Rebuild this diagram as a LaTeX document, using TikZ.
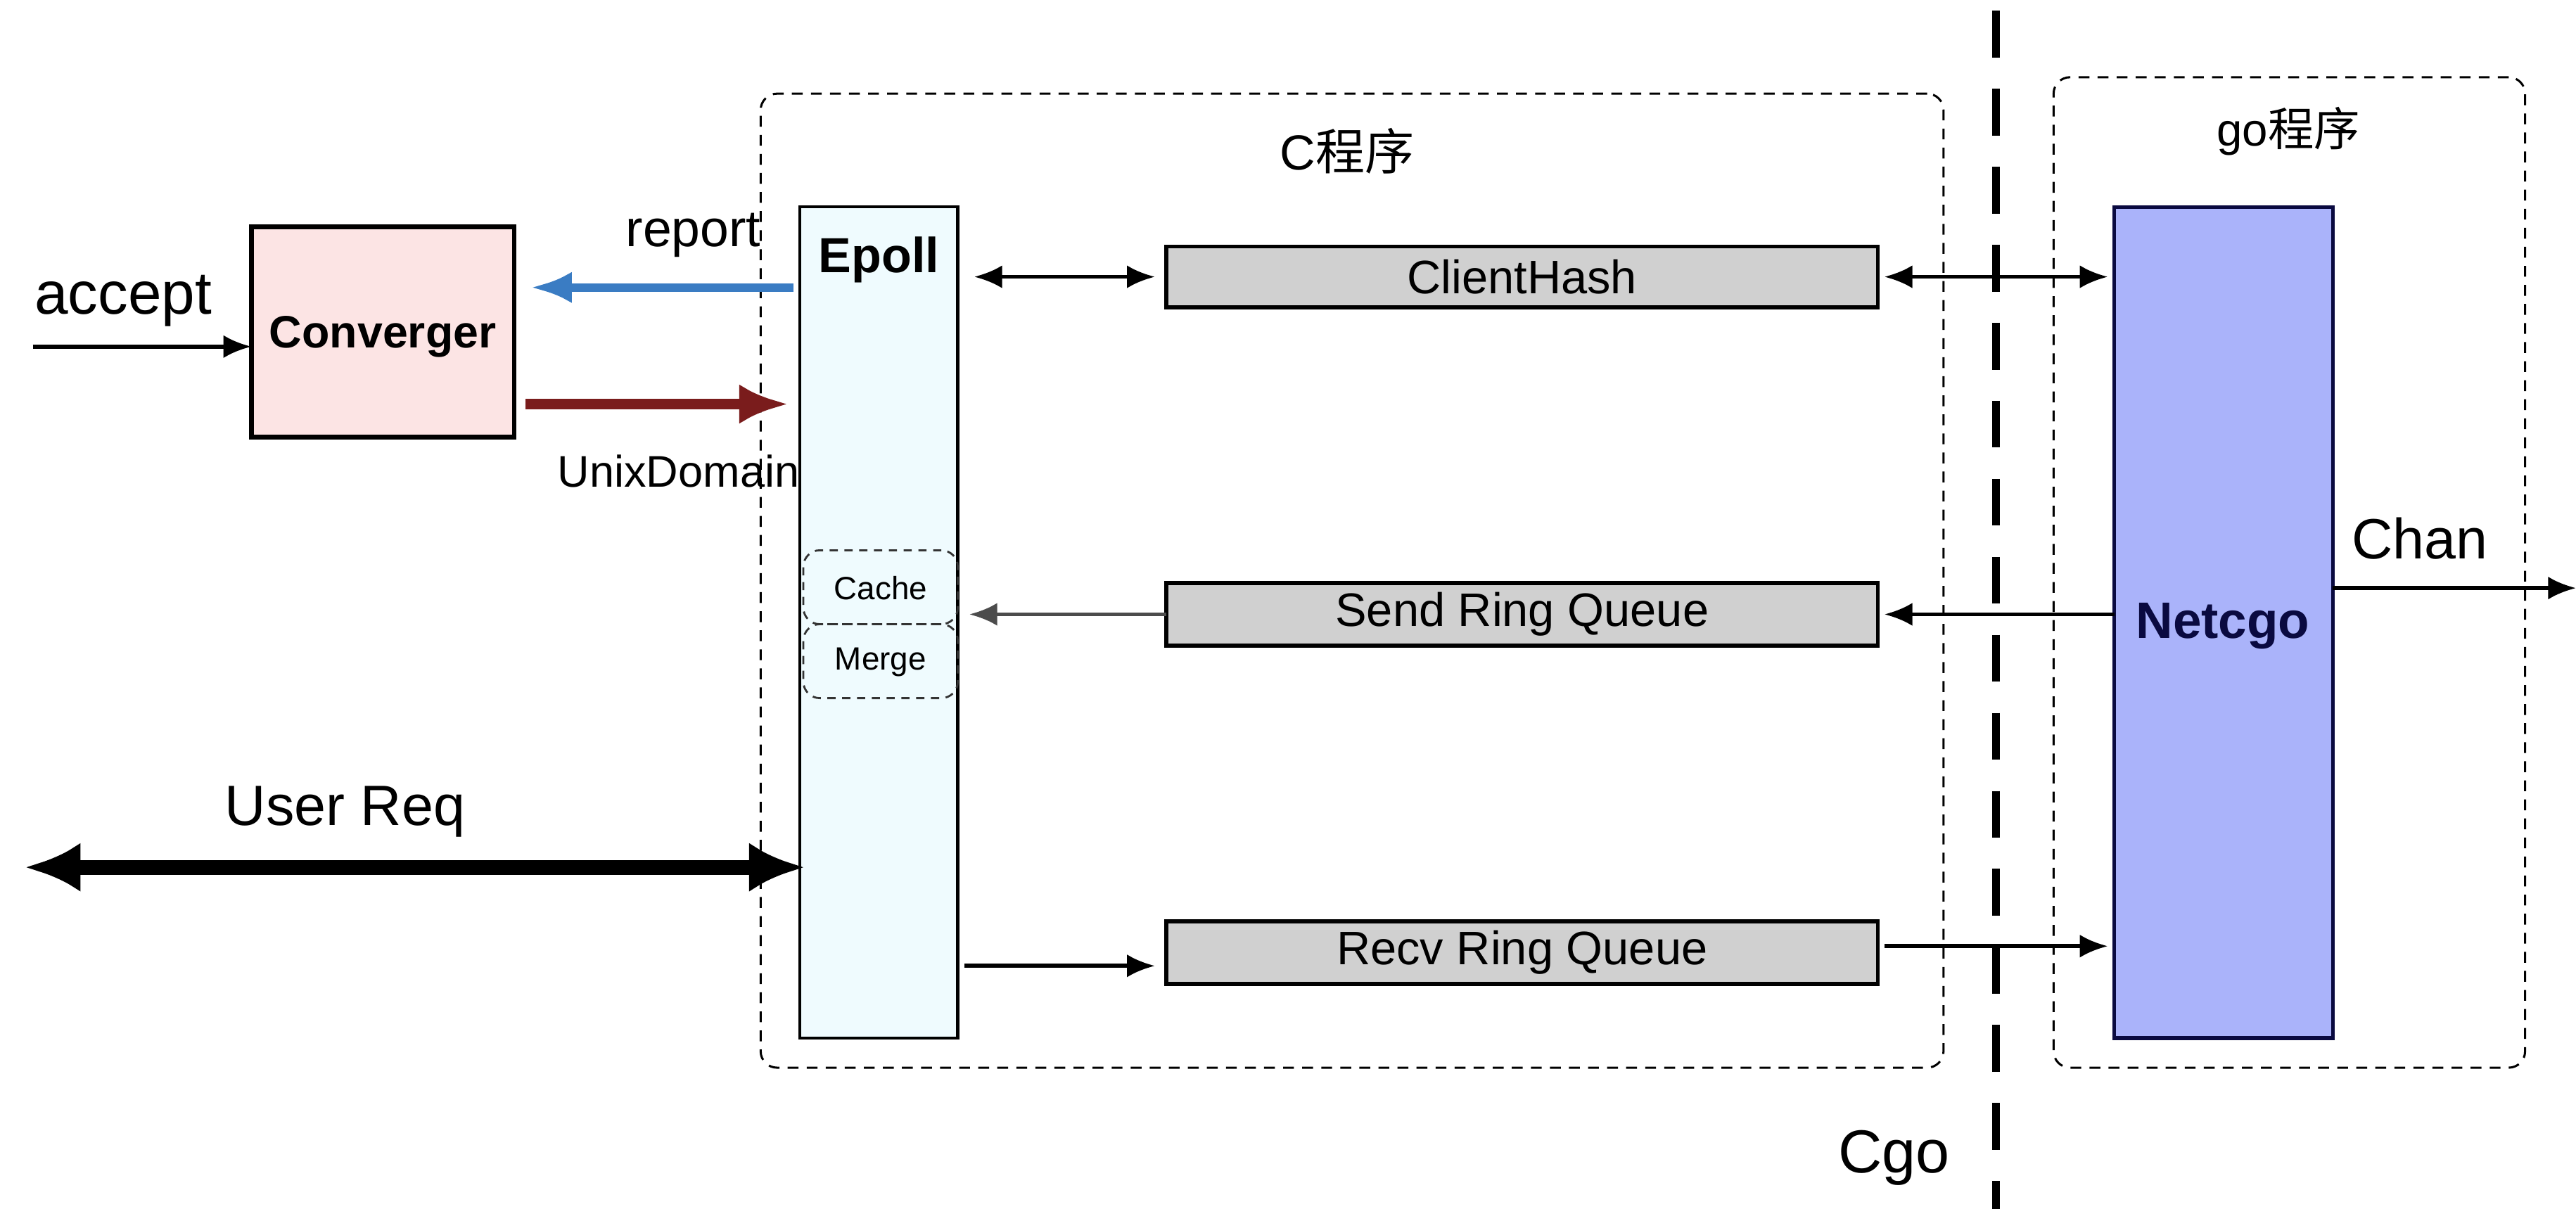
\documentclass[tikz,border=0pt]{standalone}
\usepackage{fontspec}
\setmainfont{Liberation Sans}
\newfontfamily\cjk{Noto Sans CJK SC}
\usetikzlibrary{arrows.meta,fit}
\newcommand\myfs[1]{\fontsize{#1}{#1}\selectfont}
\definecolor{convfill}{HTML}{FCE4E4}
\definecolor{epollfill}{HTML}{EFFBFE}
\definecolor{netfill}{HTML}{AAB3FA}
\definecolor{netline}{HTML}{0A0A40}
\definecolor{qfill}{HTML}{D0D0D0}
\definecolor{repblue}{HTML}{3A7CC3}
\definecolor{udred}{HTML}{7A1C1C}
\tikzset{
  every node/.style={inner sep=0pt, outer sep=0pt},
  grp/.style={draw, line width=0.65pt, dash pattern=on 3.3pt off 2.5pt, rounded corners=5pt},
  cgoline/.style={line width=2.4pt, dash pattern=on 14.25pt off 9.5pt},
  blk/.style={draw, line width=1.4pt, inner sep=0pt},
  qbox/.style={draw, line width=1.2pt, fill=qfill, inner sep=0pt},
  qtxt/.style={font=\myfs{14.3}},
  dsh/.style={draw=black!80, line width=0.6pt, dash pattern=on 2.5pt off 2pt, rounded corners=5pt, inner sep=0pt},
  dtxt/.style={font=\myfs{9.8}},
  arr/.style={line width=1.2pt, -{Latex[length=8.5pt,width=7pt]}},
  darr/.style={line width=1.2pt, {Latex[length=8.5pt,width=7pt]}-{Latex[length=8.5pt,width=7pt]}}
}
\begin{document}
\begin{tikzpicture}[x=0.5pt,y=-0.5pt]
\useasboundingbox (0,0) rectangle (1568,736);
% groups
\node[grp, fit={(463,57) (1183,650)}] (cgrp) {};
\node[grp, fit={(1250,47) (1537,650)}] (ggrp) {};
\node[font=\myfs{15}] (clbl) at (820,92) {C{\cjk 程序}};
\node[font=\myfs{14}] (glbl) at (1393,80) {go{\cjk 程序}};
% Cgo separator
\coordinate (cgotop) at (1215,6.5);
\coordinate (cgobot) at (1215,736);
\draw[cgoline] (cgotop) -- (cgobot);
\node[font=\myfs{18.5}] (cgolbl) at (1153,705) {Cgo};
% blocks
\node[blk, fill=convfill, fit={(153,138) (313,266)}] (conv) {};
\node[font=\bfseries\myfs{13.8}] (convlbl) at (233,205) {Converger};
\node[blk, line width=0.9pt, fill=epollfill, fit={(487,126) (583,632)}] (epoll) {};
\node[font=\bfseries\myfs{15}] (epl) at (535,158) {Epoll};
\node[blk, draw=netline, line width=1.1pt, fill=netfill, fit={(1287,126) (1420,632)}] (net) {};
\node[font=\bfseries\myfs{15.6}, text=netline] (netlbl) at (1353,381) {Netcgo};
\node[dsh, fit={(489,335) (583,380)}] (cache) {};
\node[dtxt] (cachelbl) at (536,358) {Cache};
\node[dsh, fit={(489,380) (583,425)}] (merge) {};
\node[dtxt] (mergelbl) at (536,403) {Merge};
\node[qbox, fit={(710,150) (1143,187)}] (ch) {};
\node[qtxt] (chlbl) at (ch.center) {ClientHash};
\node[qbox, fit={(710,355) (1143,393)}] (send) {};
\node[qtxt] (sendlbl) at (send.center) {Send Ring Queue};
\node[qbox, fit={(710,561) (1143,599)}] (recv) {};
\node[qtxt] (recvlbl) at (recv.center) {Recv Ring Queue};
% labels
\node[font=\myfs{18.3}] (acclbl) at (75,183) {accept};
\node[font=\myfs{15.7}] (replbl) at (422,143) {report};
\node[font=\myfs{13.5}] (udlbl) at (413,287) {UnixDomain};
\node[font=\myfs{17.3}] (ureqlbl) at (210,494) {User Req};
\node[font=\myfs{17.3}] (chanlbl) at (1473,328) {Chan};
% coordinates for connector heights
\coordinate (accS) at (20,211);
\coordinate (yrep) at (0,175);
\coordinate (yred) at (0,246);
\coordinate (ureqS) at (15,528);
\coordinate (yrecvL) at (0,588);
\coordinate (yrecvR) at (0,576);
\coordinate (ychan) at (0,358);
\coordinate (chanE) at (1568,358);
% connectors
\draw[arr] (accS) -- (conv.west |- accS);
\draw[line width=2.6pt, draw=repblue, -{Latex[length=12.5pt,width=9.5pt]}, shorten <=2pt, shorten >=5pt]
  (epoll.west |- yrep) -- (conv.east |- yrep);
\draw[line width=3.4pt, draw=udred, -{Latex[length=15pt,width=12pt]}, shorten <=3.5pt, shorten >=3.5pt]
  (conv.east |- yred) -- (epoll.west |- yred);
\draw[darr, shorten <=5pt, shorten >=3.5pt] (epoll.east |- ch.west) -- (ch.west);
\draw[darr, shorten <=2pt, shorten >=2pt] (ch.east) -- (net.west |- ch.east);
\draw[arr, shorten >=2pt] (net.west |- send.east) -- (send.east);
\draw[arr, draw=black!70, shorten >=3.5pt] (send.west) -- (epoll.east |- send.west);
\draw[arr, shorten <=2pt, shorten >=3.5pt] (epoll.east |- yrecvL) -- (recv.west |- yrecvL);
\draw[arr, shorten <=2pt, shorten >=2pt] (recv.east |- yrecvR) -- (net.west |- yrecvR);
\draw[line width=4.5pt, {Latex[length=17pt,width=15pt]}-{Latex[length=17pt,width=15pt]}, shorten >=-1.5pt]
  (ureqS) -- (epoll.west |- ureqS);
\draw[arr] (net.east |- ychan) -- (chanE);
\end{tikzpicture}
\end{document}
